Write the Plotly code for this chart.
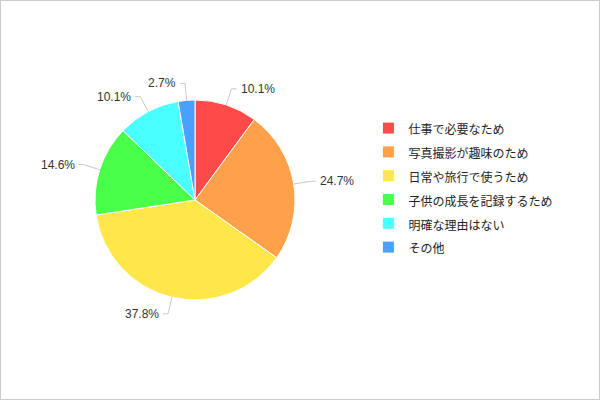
import math
import plotly.graph_objects as go

# data
labels = ["仕事で必要なため", "写真撮影が趣味のため", "日常や旅行で使うため",
          "子供の成長を記録するため", "明確な理由はない", "その他"]
values = [10.1, 24.7, 37.8, 14.6, 10.1, 2.7]
colors = ["#FF4A4A", "#FFA04A", "#FFE74A", "#4AFF4A", "#4AFFFF", "#4AA0FF"]

W, H = 600, 400
cx, cy, R = 195, 200, 100  # pie centre / radius in px

# legend font is set bigger so rows get the wider spacing, text itself stays 12px
legend_names = ['<span style="font-size:12px">%s</span>' % s for s in labels]

fig = go.Figure(go.Pie(
    labels=legend_names, values=values, sort=False, direction="clockwise",
    marker=dict(colors=colors, line=dict(color="white", width=1)),
    textinfo="none", hoverinfo="label+percent",
    domain=dict(x=[(cx - R) / W, (cx + R) / W], y=[(H - cy - R) / H, (H - cy + R) / H]),
))

# outside labels with leader lines, placed from the slice mid angles
shapes = []
annots = []
total = sum(values)
cum = 0
for v in values:
    mid = (cum + v / 2) / total * 2 * math.pi
    cum += v
    sx, sy = math.sin(mid), -math.cos(mid)
    x0, y0 = cx + R * sx, cy + R * sy
    x1, y1 = cx + 117 * sx, cy + 117 * sy
    side = 1 if sx >= 0 else -1
    x2 = x1 + 5 * side
    shapes.append(dict(type="path", xref="paper", yref="paper",
                       path="M %f %f L %f %f L %f %f" % (x0 / W, 1 - y0 / H, x1 / W, 1 - y1 / H, x2 / W, 1 - y1 / H),
                       line=dict(color="#c8c8c8", width=1)))
    annots.append(dict(x=(x2 + 2 * side) / W, y=1 - y1 / H, xref="paper", yref="paper",
                       text="%.1f%%" % v, showarrow=False,
                       xanchor="left" if side > 0 else "right", yanchor="middle",
                       font=dict(size=12, color="#333333")))

# thin frame around the whole picture
shapes.append(dict(type="rect", xref="paper", yref="paper", x0=0, y0=0, x1=1, y1=1,
                   line=dict(color="#cccccc", width=2)))

fig.update_layout(
    width=W, height=H,
    margin=dict(l=0, r=0, t=0, b=0),
    paper_bgcolor="white",
    font=dict(family="Liberation Sans, Arial, Noto Sans CJK JP", size=12, color="#222222"),
    showlegend=True,
    legend=dict(x=0.614, y=0.722, xanchor="left", yanchor="top", itemwidth=30,
                font=dict(size=16, family="Noto Sans CJK JP, Liberation Sans", color="#222222")),
    shapes=shapes,
    annotations=annots,
)

fig.write_html("out.html", config={"displayModeBar": False},
               post_script="document.body.style.margin='0';document.body.style.overflow='hidden';")
